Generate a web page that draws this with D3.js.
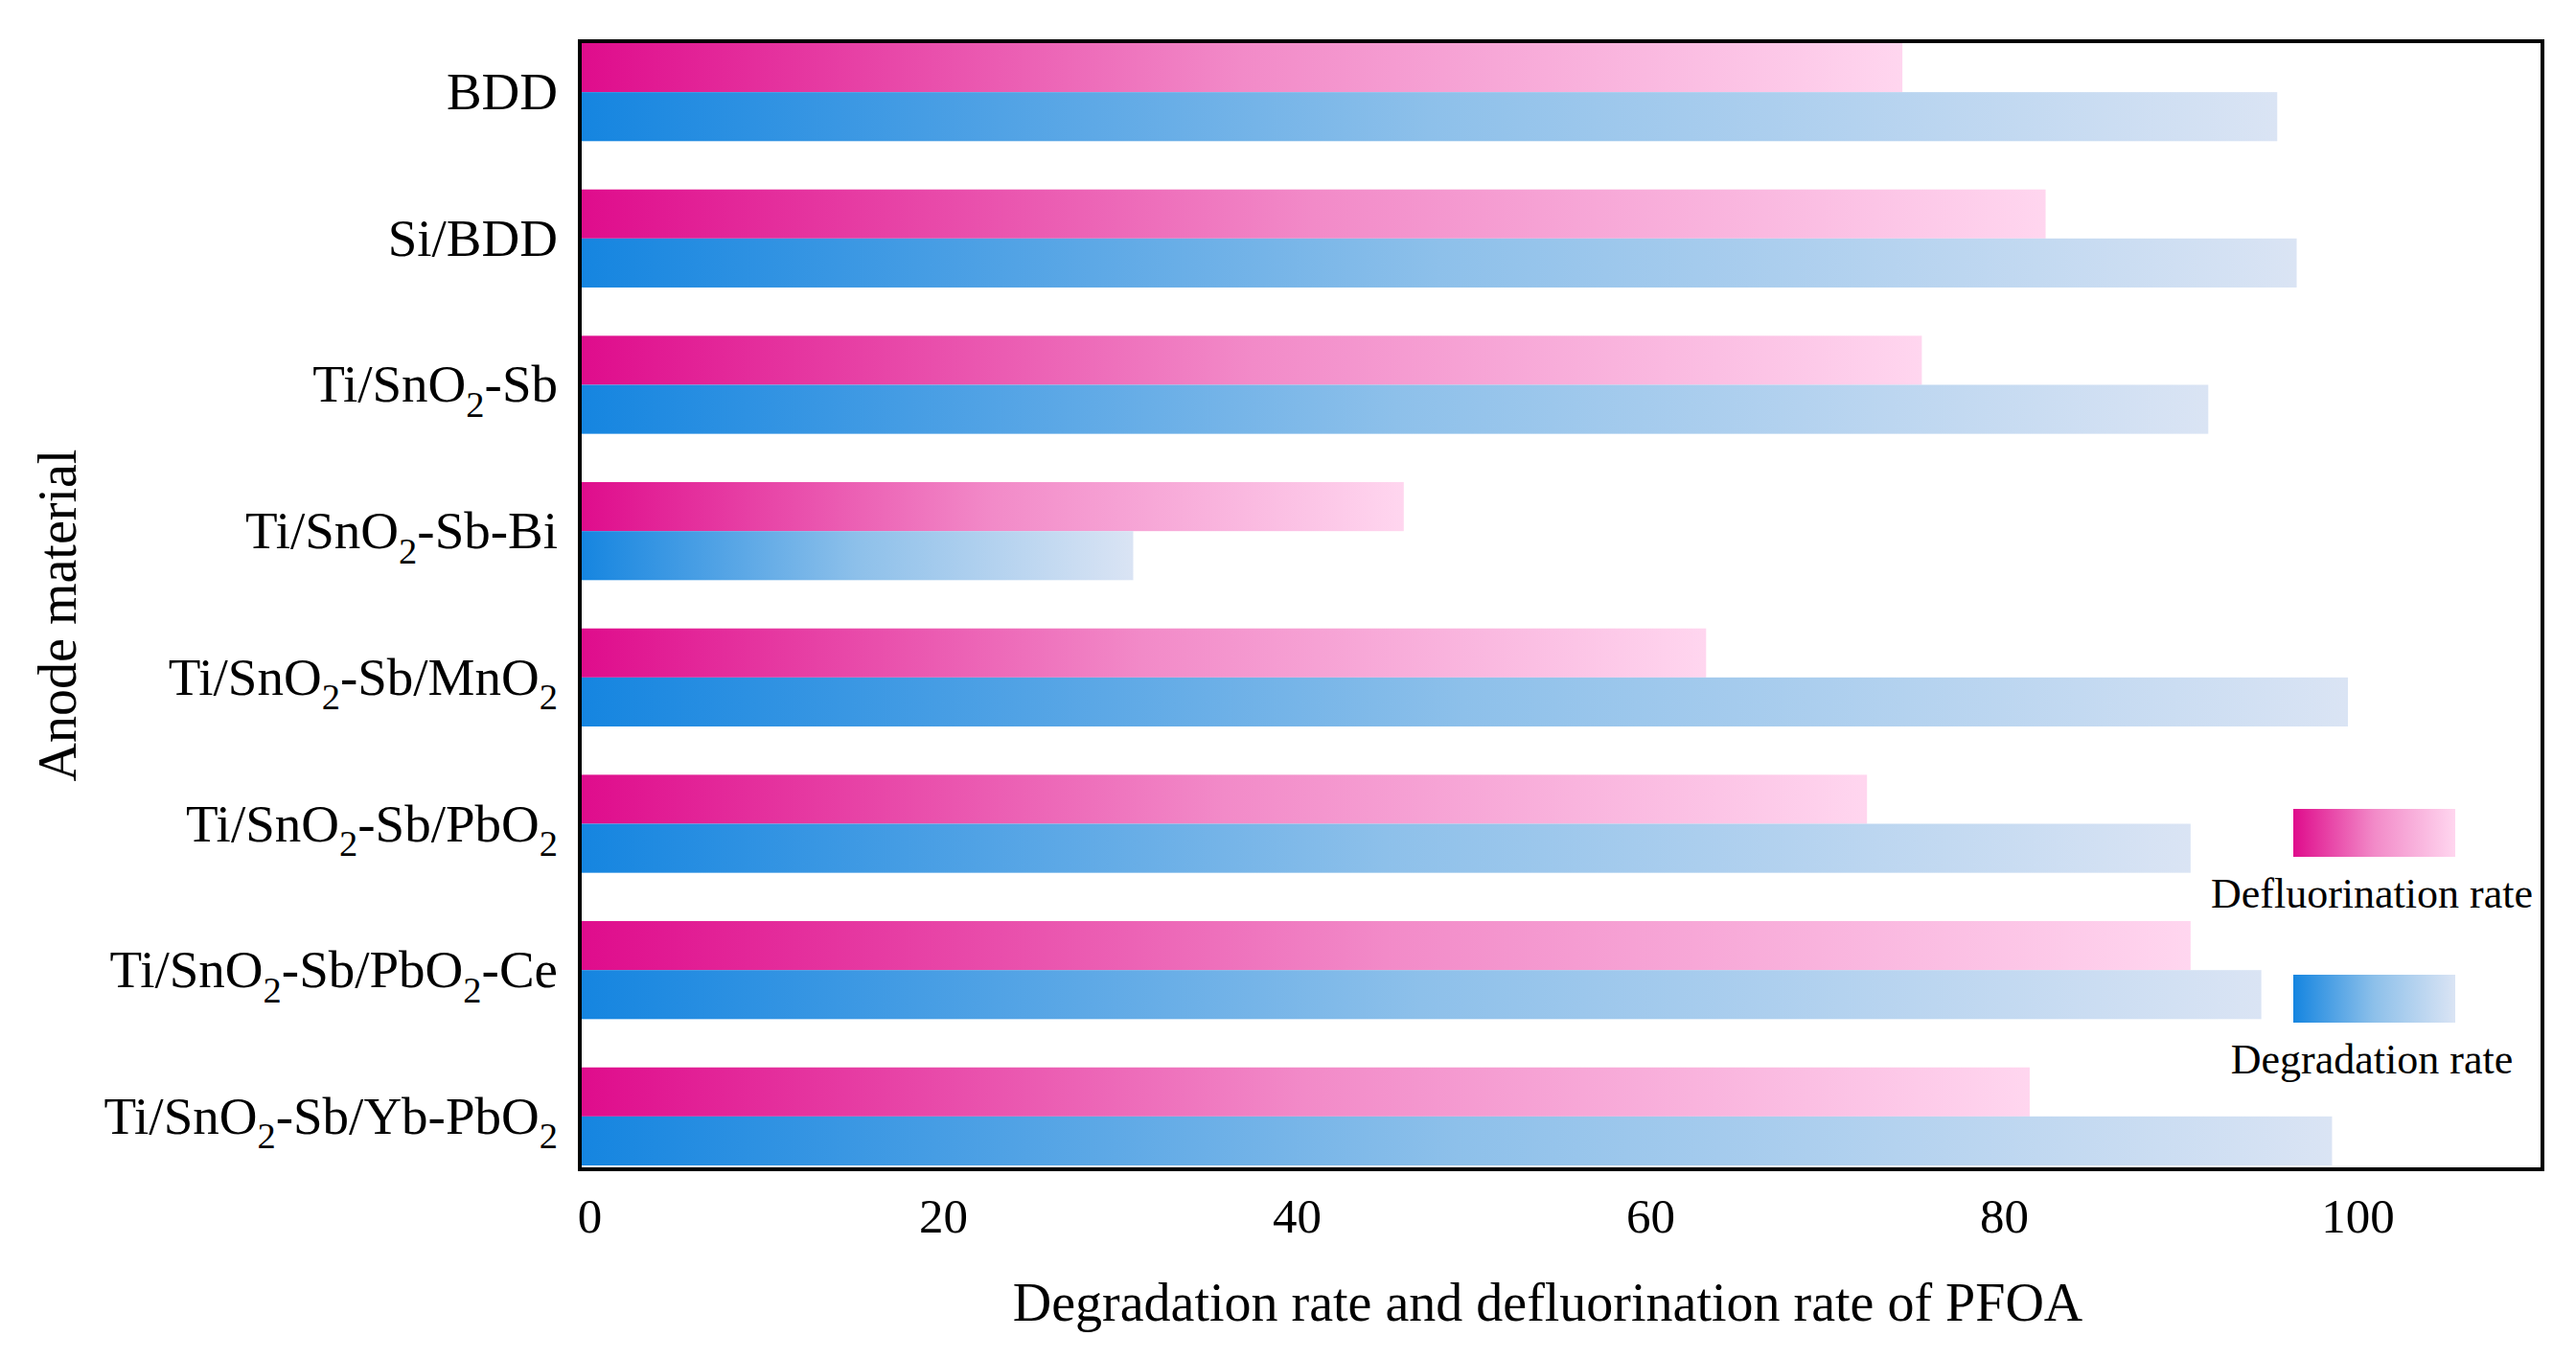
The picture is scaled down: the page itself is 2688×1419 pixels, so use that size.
<!DOCTYPE html>
<html>
<head>
<meta charset="utf-8">
<script src="https://cdn.jsdelivr.net/npm/d3@7"></script>
<style>
  body { margin: 0; background: #fff; }
  svg { display: block; font-family: "Liberation Serif", "Times New Roman", serif; }
</style>
</head>
<body>
<svg id="chart" width="2688" height="1419"></svg>
<script>
// anode names, "_2" marks a subscript 2
const anodes = [
  'BDD',
  'Si/BDD',
  'Ti/SnO_2-Sb',
  'Ti/SnO_2-Sb-Bi',
  'Ti/SnO_2-Sb/MnO_2',
  'Ti/SnO_2-Sb/PbO_2',
  'Ti/SnO_2-Sb/PbO_2-Ce',
  'Ti/SnO_2-Sb/Yb-PbO_2'
]
const defluorination = [74.8, 82.9, 75.9, 46.6, 63.7, 72.8, 91.1, 82.0]
const degradation = [96.0, 97.1, 92.1, 31.3, 100.0, 91.1, 95.1, 99.1]
const xTicks = [0, 20, 40, 60, 80, 100]
const seriesNames = ['Defluorination rate', 'Degradation rate']

const plotLeft = 605, plotRight = 2653, plotTop = 43, plotBottom = 1220

const svg = d3.select('#chart')

// gradients, one per series, stretched over each bar
const defs = svg.append('defs')
const grads = [
  { id: 'pinkGrad', stops: ['#df0c8c', '#f28ac8', '#ffd6ef'] },
  { id: 'blueGrad', stops: ['#1585e0', '#8dc0ea', '#dae4f4'] }
]
grads.forEach(function (g) {
  const lg = defs.append('linearGradient')
    .attr('id', g.id)
    .attr('x1', '0%').attr('x2', '100%')
    .attr('y1', '0%').attr('y2', '0%')
  g.stops.forEach(function (c, i) {
    lg.append('stop').attr('offset', (i * 50) + '%').attr('stop-color', c)
  })
})

const x = d3.scaleLinear().domain([0, 111]).range([plotLeft, plotRight])
const y = d3.scaleBand().domain(anodes).range([plotTop + 2, plotBottom - 4]).paddingInner(0.33).paddingOuter(0)
const sub = d3.scaleBand().domain(['defl', 'degr']).range([0, y.bandwidth()])

const rows = anodes.map(function (a, i) {
  return { name: a, defl: defluorination[i], degr: degradation[i] }
})

// bars
const groups = svg.append('g')
  .selectAll('g')
  .data(rows)
  .enter()
  .append('g')
  .attr('transform', function (d) { return 'translate(0,' + y(d.name) + ')' })

groups.append('rect')
  .attr('x', x(0))
  .attr('y', sub('defl'))
  .attr('width', function (d) { return x(d.defl) - x(0) })
  .attr('height', sub.bandwidth())
  .style('fill', 'url(#pinkGrad)')

groups.append('rect')
  .attr('x', x(0))
  .attr('y', sub('degr'))
  .attr('width', function (d) { return x(d.degr) - x(0) })
  .attr('height', sub.bandwidth())
  .style('fill', 'url(#blueGrad)')

// frame
svg.append('rect')
  .attr('x', plotLeft).attr('y', plotTop)
  .attr('width', plotRight - plotLeft).attr('height', plotBottom - plotTop)
  .attr('fill', 'none')
  .attr('stroke', '#000')
  .attr('stroke-width', 4)

// category labels with subscripts
function addLabel(sel, str, size) {
  const parts = str.split(/(_\d)/).filter(function (p) { return p !== '' })
  let lowered = false
  parts.forEach(function (p) {
    if (p[0] === '_') {
      sel.append('tspan').attr('font-size', size * 0.7).attr('dy', size * 0.28).text(p.slice(1))
      lowered = true
    } else {
      sel.append('tspan').attr('font-size', size).attr('dy', lowered ? -size * 0.28 : 0).text(p)
      lowered = false
    }
  })
}

svg.append('g')
  .selectAll('text')
  .data(anodes)
  .enter()
  .append('text')
  .attr('x', 582)
  .attr('y', function (d) { return y(d) + y.bandwidth() / 2 + 18 })
  .attr('text-anchor', 'end')
  .attr('fill', '#000')
  .each(function (d) { addLabel(d3.select(this), d, 55) })

// x axis labels, no tick marks
const xAxis = svg.append('g')
  .attr('transform', 'translate(10,' + plotBottom + ')')
  .call(d3.axisBottom(x).tickValues(xTicks).tickSize(0).tickPadding(30).tickFormat(d3.format('d')))
xAxis.select('.domain').remove()
xAxis.selectAll('text')
  .style('font-family', '"Liberation Serif", serif')
  .style('font-size', '51px')
  .attr('fill', '#000')

svg.append('text')
  .attr('x', 1615)
  .attr('y', 1378)
  .attr('text-anchor', 'middle')
  .style('font-size', '56px')
  .text('Degradation rate and defluorination rate of PFOA')

svg.append('text')
  .attr('transform', 'translate(79,642) rotate(-90)')
  .attr('text-anchor', 'middle')
  .style('font-size', '56px')
  .text('Anode material')

// legend
const legend = [
  { name: seriesNames[0], grad: 'pinkGrad', y: 844, ty: 947 },
  { name: seriesNames[1], grad: 'blueGrad', y: 1017, ty: 1120 }
]
legend.forEach(function (l) {
  svg.append('rect')
    .attr('x', 2393).attr('y', l.y)
    .attr('width', 169).attr('height', 50)
    .style('fill', 'url(#' + l.grad + ')')
  svg.append('text')
    .attr('x', 2475).attr('y', l.ty)
    .attr('text-anchor', 'middle')
    .style('font-size', '44px')
    .text(l.name)
})
</script>
</body>
</html>
